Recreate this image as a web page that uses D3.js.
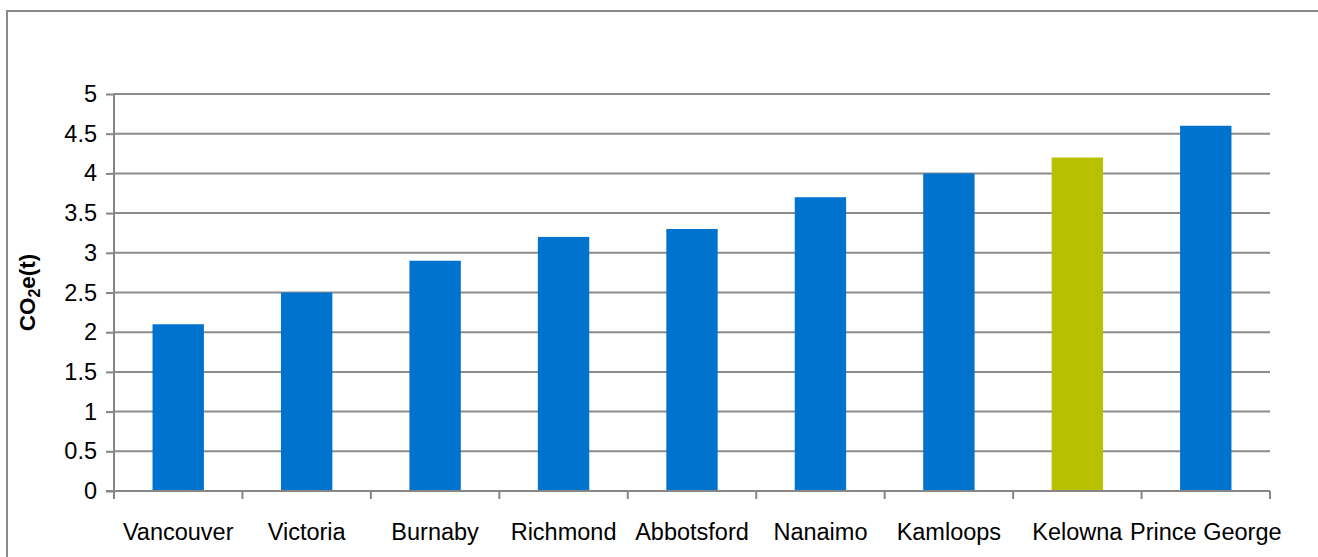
<!DOCTYPE html>
<html>
<head>
<meta charset="utf-8">
<script src="https://cdn.jsdelivr.net/npm/d3@7/dist/d3.min.js"></script>
<style>
  html, body { margin: 0; padding: 0; background: #fff; }
  svg { display: block; }
  text { font-family: "Liberation Sans", Arial, sans-serif; fill: #000; }
</style>
</head>
<body>
<svg id="chart" width="1318" height="557"></svg>
<script>
// Per-capita emissions by city
const cities = ["Vancouver", "Victoria", "Burnaby", "Richmond", "Abbotsford", "Nanaimo", "Kamloops", "Kelowna", "Prince George"];
const emissions = [2.1, 2.5, 2.9, 3.2, 3.3, 3.7, 4.0, 4.2, 4.6];
const yTicks = [0, 0.5, 1, 1.5, 2, 2.5, 3, 3.5, 4, 4.5, 5];
const highlightCity = "Kelowna";

const W = 1318, H = 557;
const margin = { left: 114, right: 48, top: 94, bottom: 66 };
const plotW = W - margin.left - margin.right;
const plotH = H - margin.top - margin.bottom;

const svg = d3.select("#chart");

// outer frame
svg.append("rect")
  .attr("x", 7).attr("y", 11)
  .attr("width", W + 20).attr("height", H + 20)
  .attr("fill", "none").attr("stroke", "#8a8a8a").attr("stroke-width", 2);

const g = svg.append("g").attr("transform", `translate(${margin.left},${margin.top})`);

const x = d3.scaleBand().domain(cities).range([0, plotW]).paddingInner(0.6).paddingOuter(0.3);
const y = d3.scaleLinear().domain([0, 5]).range([plotH, 0]);

// horizontal gridlines
g.append("g").selectAll("line")
  .data(yTicks.filter(t => t > 0))
  .join("line")
  .attr("x1", 0).attr("x2", plotW)
  .attr("y1", d => y(d)).attr("y2", d => y(d))
  .attr("stroke", "#8c8c8c").attr("stroke-width", 2);

// bars
g.append("g").selectAll("rect")
  .data(cities.map((c, i) => ({ city: c, value: emissions[i] })))
  .join("rect")
  .attr("x", d => x(d.city))
  .attr("y", d => y(d.value))
  .attr("width", x.bandwidth())
  .attr("height", d => y(0) - y(d.value))
  .attr("fill", d => d.city === highlightCity ? "#b9c000" : "#0073cf");

// y axis
const yAxis = g.append("g")
  .call(d3.axisLeft(y).tickValues(yTicks).tickSize(8).tickPadding(9)
    .tickFormat(d => String(d)));
yAxis.select(".domain").attr("stroke", "#868686").attr("stroke-width", 2)
  .attr("d", `M0,${y(5)}V${y(0)}`);
yAxis.selectAll(".tick line").attr("stroke", "#868686").attr("stroke-width", 2);
yAxis.selectAll(".tick text").style("font-size", "23.5px").attr("fill", "#000")
  .style("font-family", '"Liberation Sans", Arial, sans-serif');

// x axis with ticks at category boundaries
const xAxisG = g.append("g").attr("transform", `translate(0,${plotH})`);
xAxisG.append("line").attr("x1", -8).attr("x2", plotW).attr("y1", 0).attr("y2", 0)
  .attr("stroke", "#868686").attr("stroke-width", 2);
const boundaries = d3.range(cities.length + 1).map(i => i * plotW / cities.length);
xAxisG.selectAll("line.b").data(boundaries).join("line").attr("class", "b")
  .attr("x1", d => d).attr("x2", d => d).attr("y1", 0).attr("y2", 8)
  .attr("stroke", "#868686").attr("stroke-width", 2);
xAxisG.selectAll("text.lab").data(cities).join("text").attr("class", "lab")
  .attr("x", d => x(d) + x.bandwidth() / 2)
  .attr("y", 49)
  .attr("text-anchor", "middle")
  .style("font-size", "23.5px")
  .text(d => d);

// y axis title with subscript
const title = svg.append("text")
  .attr("transform", `translate(35,${margin.top + plotH / 2}) rotate(-90)`)
  .attr("text-anchor", "middle")
  .style("font-size", "22.5px").style("font-weight", "bold");
title.append("tspan").text("CO");
title.append("tspan").attr("dy", 5).style("font-size", "16px").text("2");
title.append("tspan").attr("dy", -5).text("e(t)");
</script>
</body>
</html>
